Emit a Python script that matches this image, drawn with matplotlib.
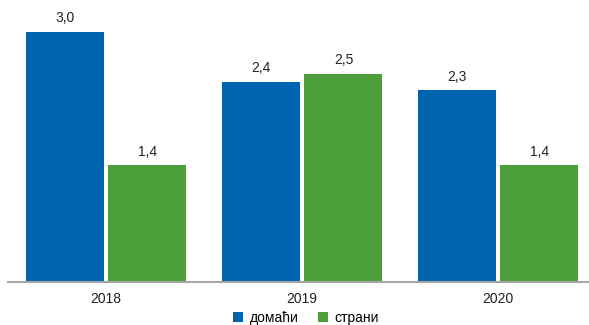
import matplotlib
matplotlib.use("Agg")
import matplotlib.pyplot as plt
import numpy as np

years = ["2018", "2019", "2020"]
domestic = [3.0, 2.4, 2.3]
foreign = [1.4, 2.5, 1.4]
series_names = ["домаћи", "страни"]

plt.rcParams["font.family"] = ["Liberation Sans", "DejaVu Sans"]

fig = plt.figure(figsize=(5.89, 3.25), dpi=100)
ax = fig.add_axes([8 / 589, 43 / 325, 588 / 589, 282 / 325])

x = np.arange(len(years))
w = 0.398
off = 0.2115
b1 = ax.bar(x - off, domestic, w, color="#0065b1", label=series_names[0])
b2 = ax.bar(x + off, foreign, w, color="#4b9e3a", label=series_names[1])

for bars, vals in ((b1, domestic), (b2, foreign)):
    for rect, v in zip(bars, vals):
        ax.text(rect.get_x() + rect.get_width() / 2, v + 0.08,
                f"{v:.1f}".replace(".", ","), ha="center", va="bottom",
                fontsize=10, color="#222222")

ax.set_xlim(-0.5, 2.5)
ax.set_ylim(0, 282 / 83.33)
ax.set_xticks(x)
ax.set_xticklabels(years, fontsize=10, color="#222222")
ax.tick_params(axis="x", length=0, pad=7)
ax.set_yticks([])
for s in ("top", "right", "left"):
    ax.spines[s].set_visible(False)
ax.spines["bottom"].set_color("#a6a6a6")
ax.spines["bottom"].set_linewidth(1.5)

fig.legend(loc="center", bbox_to_anchor=(306 / 589, 1 - 318 / 325), ncol=2,
           frameon=False, fontsize=10, handlelength=0.75, handleheight=0.75,
           handletextpad=0.45, columnspacing=1.4, borderaxespad=0)

fig.savefig("out.png", dpi=100)
